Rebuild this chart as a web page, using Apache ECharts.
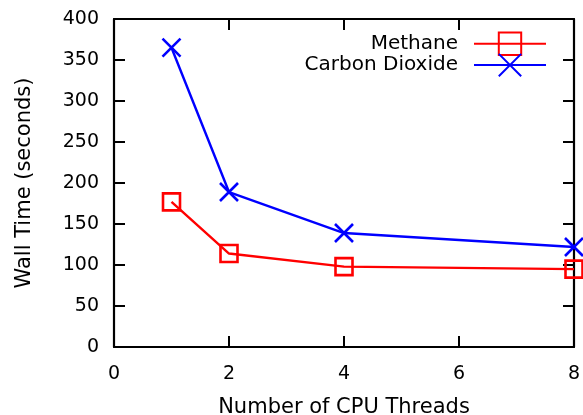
<!DOCTYPE html>
<html>
<head>
<meta charset="utf-8">
<script src="https://cdn.jsdelivr.net/npm/echarts@6/dist/echarts.min.js"></script>
<style>
  html, body { margin: 0; padding: 0; background: #fff; }
  #chart { width: 583px; height: 415px; }
</style>
</head>
<body>
<div id="chart"></div>
<script>
// Wall time against CPU thread count for two molecules
const threads = [1, 2, 4, 8];
const methaneTimes = [177, 114, 98, 95];
const co2Times = [365, 189, 139, 122];
const seriesNames = ['Methane', 'Carbon Dioxide'];

const FONT = 'DejaVu Sans';
const crossPath = 'path://M0,0L10,10M10,0L0,10';

function pairs(xs, ys) {
  return xs.map((x, i) => [x, ys[i]]);
}

function tickStyle() {
  return { inside: true, length: 11, lineStyle: { color: '#000', width: 2 } };
}
function lineAxis() {
  return { onZero: false, lineStyle: { color: '#000', width: 2.2 } };
}

const chart = echarts.init(document.getElementById('chart'), null, { renderer: 'canvas' });
chart.setOption({
  animation: false,
  backgroundColor: '#fff',
  textStyle: { fontFamily: FONT, color: '#000' },
  grid: { left: 114, right: 9, top: 19, bottom: 68, containLabel: false, outerBoundsMode: 'none' },
  legend: {
    orient: 'vertical',
    right: 36,
    top: 30,
    padding: 0,
    align: 'right',
    itemWidth: 72,
    itemHeight: 28,
    itemGap: -6,
    textStyle: { fontFamily: FONT, fontSize: 20, color: '#000', padding: [0, 11, 0, 0] },
    data: seriesNames
  },
  xAxis: [
    {
      type: 'value', position: 'bottom', min: 0, max: 8, interval: 2,
      name: 'Number of CPU Threads', nameLocation: 'middle', nameGap: 50,
      nameTextStyle: { fontFamily: FONT, fontSize: 21, color: '#000' },
      axisLine: lineAxis(), axisTick: tickStyle(),
      axisLabel: { margin: 18, fontFamily: FONT, fontSize: 19, color: '#000' },
      splitLine: { show: false }
    },
    {
      type: 'value', position: 'top', min: 0, max: 8, interval: 2,
      axisLine: lineAxis(), axisTick: tickStyle(),
      axisLabel: { show: false }, splitLine: { show: false }
    }
  ],
  yAxis: [
    {
      type: 'value', position: 'left', min: 0, max: 400, interval: 50,
      name: 'Wall Time (seconds)', nameLocation: 'middle', nameGap: 79,
      nameTextStyle: { fontFamily: FONT, fontSize: 21, color: '#000' },
      axisLine: lineAxis(), axisTick: tickStyle(),
      axisLabel: { margin: 15, fontFamily: FONT, fontSize: 19, color: '#000' },
      splitLine: { show: false }
    },
    {
      type: 'value', position: 'right', min: 0, max: 400, interval: 50,
      axisLine: lineAxis(), axisTick: tickStyle(),
      axisLabel: { show: false }, splitLine: { show: false }
    }
  ],
  series: [
    {
      name: seriesNames[0],
      type: 'line',
      data: pairs(threads, methaneTimes),
      symbol: 'rect',
      symbolSize: 17,
      clip: false,
      lineStyle: { color: '#ff0000', width: 2.4 },
      itemStyle: { color: 'none', borderColor: '#ff0000', borderWidth: 2.6 },
      emphasis: { disabled: true },
      z: 3
    },
    {
      name: seriesNames[1],
      type: 'line',
      data: pairs(threads, co2Times),
      symbol: crossPath,
      symbolSize: 18,
      clip: false,
      lineStyle: { color: '#0000ff', width: 2.4 },
      itemStyle: { color: 'none', borderColor: '#0000ff', borderWidth: 2.6 },
      emphasis: { disabled: true },
      z: 4
    }
  ]
});
</script>
</body>
</html>
